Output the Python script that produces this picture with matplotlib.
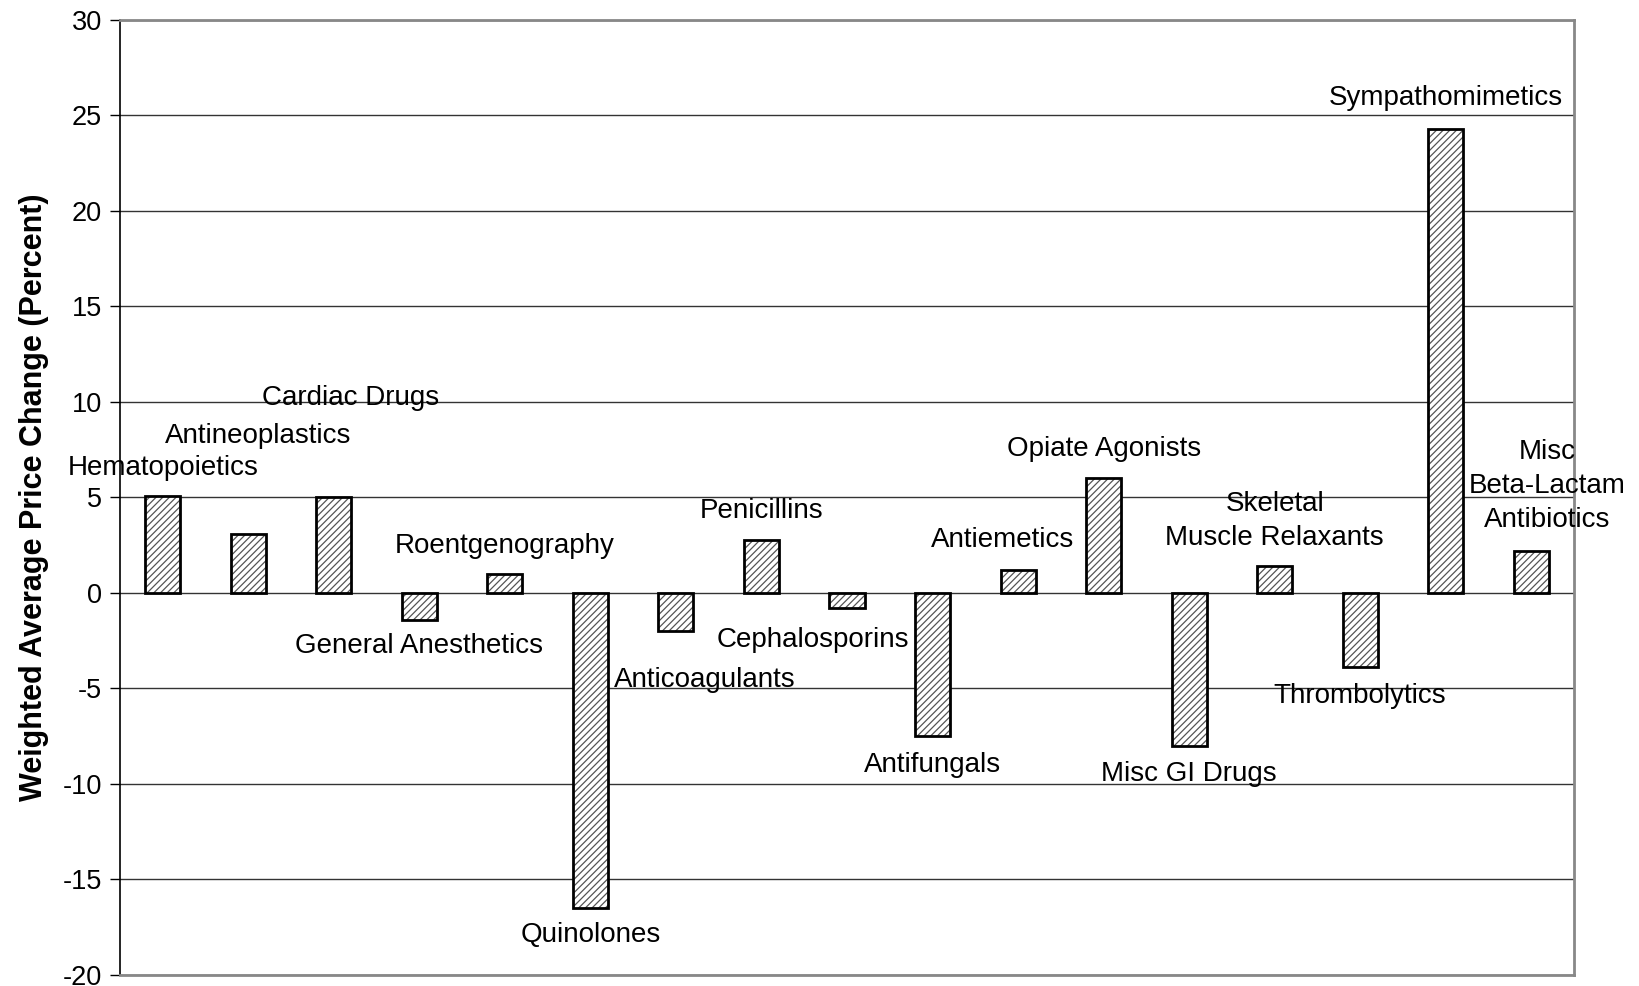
import numpy as np
import matplotlib
matplotlib.use('Agg')
import matplotlib.pyplot as plt

plt.rcParams['font.family'] = ['Liberation Sans', 'DejaVu Sans']
plt.rcParams['hatch.linewidth'] = 0.9
plt.rcParams['axes.unicode_minus'] = False

# drug classes and price change (percent)
classes = ['Hematopoietics', 'Antineoplastics', 'Cardiac Drugs', 'General Anesthetics',
           'Roentgenography', 'Quinolones', 'Anticoagulants', 'Penicillins',
           'Cephalosporins', 'Antifungals', 'Antiemetics', 'Opiate Agonists',
           'Misc GI Drugs', 'Skeletal\nMuscle Relaxants', 'Thrombolytics',
           'Sympathomimetics', 'Misc\nBeta-Lactam\nAntibiotics']
change = [5.1, 3.1, 5.0, -1.4, 1.0, -16.5, -2.0, 2.8, -0.8, -7.5, 1.2, 6.0,
          -8.0, 1.4, -3.9, 24.3, 2.2]

# where each label sits (x offset from bar, y in data units)
label_dx = [0, 0.12, 0.2, 0, 0, 0, 0.34, 0, -0.4, 0, -0.18, 0, 0, 0, 0, 0, 0.19]
label_y = [6.56, 8.2, 10.2, -2.8, 2.46, -17.9, -4.54, 4.3, -2.46, -9.0, 2.8, 7.55,
           -9.46, 3.77, -5.4, 25.9, 5.58]

fig = plt.figure(figsize=(16.39, 9.86), dpi=100)
ax = fig.add_axes([120 / 1639, 1 - 975 / 986, 1454 / 1639, 955 / 986])

x = np.arange(len(classes))
w = 0.41
ax.bar(x, change, width=w, color='white', edgecolor='#555555', hatch='/////',
       linewidth=0, zorder=2)
ax.bar(x, change, width=w, fill=False, edgecolor='black', linewidth=2, zorder=3)

for i, name in enumerate(classes):
    ax.text(x[i] + label_dx[i], label_y[i], name, ha='center', va='center',
            fontsize=20, linespacing=1.4, zorder=4)

ax.set_xlim(-0.5, len(classes) - 0.5)
ax.set_ylim(-20, 30)
ax.set_yticks(np.arange(-20, 31, 5))
ax.set_xticks([])
ax.yaxis.grid(True, color='#333333', linewidth=1)
ax.set_axisbelow(True)
ax.tick_params(axis='y', labelsize=19.5, length=7, width=1, direction='out', pad=6)

for side in ['top', 'right', 'bottom']:
    ax.spines[side].set_color('#888888')
    ax.spines[side].set_linewidth(2)
ax.spines['left'].set_color('black')
ax.spines['left'].set_linewidth(1.2)

ax.set_ylabel('Weighted Average Price Change (Percent)', fontsize=22,
              fontweight='bold', labelpad=10)

fig.savefig('out.png', dpi=100)
